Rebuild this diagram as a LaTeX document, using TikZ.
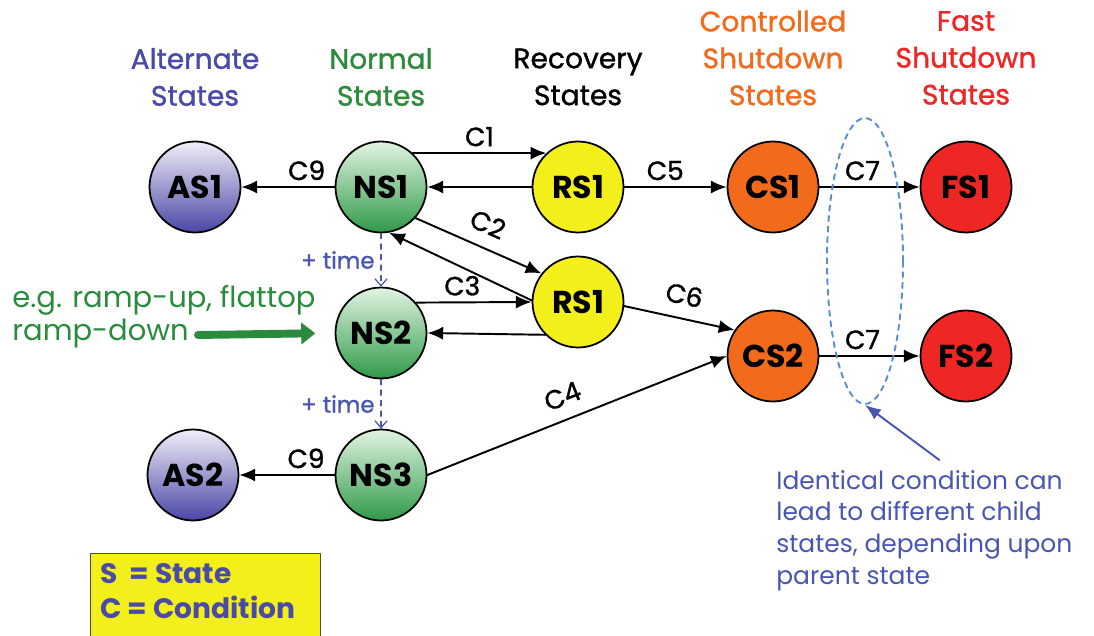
\documentclass[tikz,border=0pt]{standalone}
\usepackage{fontspec}
\setmainfont{Poppins}
\newfontfamily\medfont{Poppins}[FakeBold=1.2]
\usepackage{tikz}
\usetikzlibrary{arrows.meta, shapes.geometric}

\definecolor{altlight}{HTML}{F0EEF8}
\definecolor{altdark}{HTML}{4A46A6}
\definecolor{normlight}{HTML}{E2F3E2}
\definecolor{normdark}{HTML}{2F9A48}
\definecolor{recyellow}{HTML}{F2EF1B}
\definecolor{ctrlorange}{HTML}{F26B1C}
\definecolor{fastred}{HTML}{EE2624}
\definecolor{hdrblue}{HTML}{4A4AA8}
\definecolor{hdrgreen}{HTML}{2E8B3E}
\definecolor{noteblue}{HTML}{4A55B0}
\definecolor{grpblue}{HTML}{5B8FD0}
\definecolor{rampgreen}{HTML}{2A8A3E}

\begin{document}
\begin{tikzpicture}[x=0.02cm, y=-0.02cm, >=Latex, line cap=round, line join=round,
    state/.style={circle, draw=black, line width=1pt, minimum size=1.82cm, inner sep=0pt,
      font=\fontsize{18}{20}\selectfont\bfseries},
    altstate/.style={state, top color=altlight, bottom color=altdark},
    normstate/.style={state, top color=normlight, bottom color=normdark},
    recstate/.style={state, fill=recyellow},
    ctrlstate/.style={state, fill=ctrlorange},
    faststate/.style={state, fill=fastred},
    trans/.style={line width=1.1pt, -{Latex[length=9pt,width=7.5pt]}},
    cond/.style={font=\medfont\fontsize{15}{16}\selectfont},
    hdr/.style={align=center, font=\medfont\fontsize{16}{21}\selectfont},
    timestep/.style={noteblue, dashed, line width=0.7pt, -{Straight Barb[length=4pt,width=7pt]}}]

  \useasboundingbox (0,0) rectangle (1094,635);

  %--------------------------
  % Column headers
  %--------------------------
  \node[hdr, text=hdrblue] (hAlt) at (195,77) {Alternate\\States};
  \node[hdr, text=hdrgreen] (hNorm) at (381,77) {Normal\\States};
  \node[hdr, text=black] (hRec) at (578,77) {Recovery\\States};
  \node[hdr, text=ctrlorange] (hCtrl) at (773,58) {Controlled\\Shutdown\\States};
  \node[hdr, text=fastred] (hFast) at (966,58) {Fast\\Shutdown\\States};

  %--------------------------
  % States
  %--------------------------
  \node[altstate] (AS1) at (195,187) {AS1};
  \node[normstate] (NS1) at (381,187) {NS1};
  \node[recstate] (RS1a) at (578,187) {RS1};
  \node[ctrlstate] (CS1) at (773,187) {CS1};
  \node[faststate] (FS1) at (966,187) {FS1};

  \node[normstate] (NS2) at (381,333) {NS2};
  \node[recstate] (RS1b) at (578,302) {RS1};
  \node[ctrlstate] (CS2) at (773,356) {CS2};
  \node[faststate] (FS2) at (966,356) {FS2};

  \node[altstate] (AS2) at (193,475) {AS2};
  \node[normstate] (NS3) at (381,475) {NS3};

  %--------------------------
  % Conditions
  %--------------------------
  \draw[trans] (NS1) -- (AS1) node[cond, pos=0.3, above] {C9};
  \draw[trans] (NS1.47) -- (RS1a.133) node[cond, midway, above] {C1};
  \draw[trans] (RS1a.west) -- (NS1.east);
  \draw[trans] (RS1a) -- (CS1) node[cond, pos=0.4, above] {C5};
  \draw[trans] (CS1) -- (FS1) node[cond, pos=0.43, above] {C7};

  \draw[trans] (NS1.-42) -- (RS1b.142) node[cond, midway, above=4pt, sloped] {C2};
  \draw[trans] (RS1b.178) -- (NS1.-80);
  \draw[trans] (NS2.41) -- (RS1b.180) node[cond, pos=0.4, above] {C3};
  \draw[trans] (RS1b.-135) -- (NS2.east);
  \draw[trans] (RS1b.-5) -- (CS2.146) node[cond, midway, above=4pt, sloped] {C6};
  \draw[trans] (CS2) -- (FS2) node[cond, pos=0.43, above] {C7};

  \draw[trans] (NS3.east) -- (CS2.west) node[cond, pos=0.48, above=4pt, sloped] {C4};
  \draw[trans] (NS3) -- (AS2) node[cond, pos=0.3, above] {C9};

  % time steps
  \draw[timestep] (NS1.south) -- (NS2.north)
    node[midway, left, font=\medfont\fontsize{13}{15}\selectfont] {+ time};
  \draw[timestep] (NS2.south) -- (NS3.north)
    node[midway, left, font=\medfont\fontsize{13}{15}\selectfont] {+ time};

  %--------------------------
  % Annotations
  %--------------------------
  \node[align=left, anchor=west, text=rampgreen, inner sep=0pt,
    font=\fontsize{16.5}{18.7}\selectfont] (ramp) at (12,317) {e.g. ramp-up, flattop\\ramp-down};
  \coordinate (rampend) at (198,335);
  \draw[rampgreen, line width=4.5pt, shorten >=11pt,
    -{Triangle[length=8pt,width=12pt]}] (rampend) -- (NS2.west);

  \node[ellipse, draw=grpblue, dashed, line width=1.1pt, minimum width=1.52cm,
    minimum height=5.72cm] (grp) at (865,261) {};

  \node[align=left, anchor=north west, text=noteblue, inner sep=0pt,
    font=\fontsize{14.2}{18}\selectfont] (note) at (776,470)
    {Identical condition can\\lead to different child\\states, depending upon\\parent state};
  \draw[noteblue, line width=1.1pt, -{Latex[length=9pt,width=7pt]}]
    ([xshift=0.3cm, yshift=0.2cm]note.north) -- (grp.south);

  \node[draw=black!70, fill=recyellow, anchor=north west, minimum width=4.6cm,
    minimum height=1.9cm, inner sep=0pt] (legend) at (90,553) {};
  \node[anchor=north west, align=left, text=hdrblue, inner sep=0pt,
    font=\fontsize{16}{20}\selectfont\bfseries] (legtext) at (100,563)
    {S\ \ = State\\C = Condition};

\end{tikzpicture}
\end{document}
